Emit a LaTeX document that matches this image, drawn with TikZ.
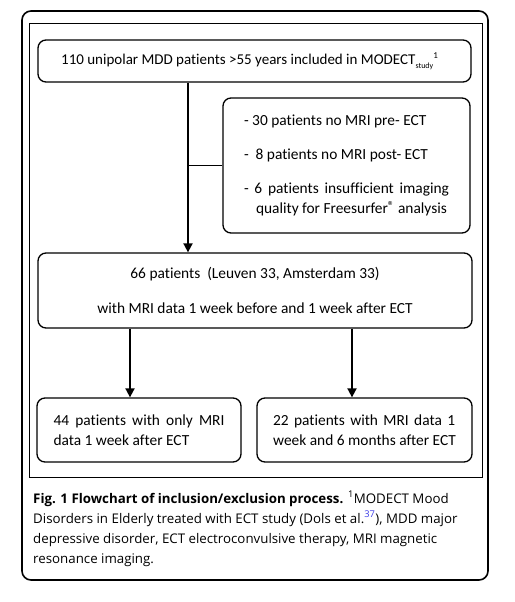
\documentclass[tikz,border=0pt]{standalone}
\usepackage{fontspec}
\setmainfont{Carlito}[Ligatures=NoCommon]
\newfontfamily\capfont{Open Sans}
\usetikzlibrary{arrows.meta}
\definecolor{linkblue}{RGB}{60,60,230}
\begin{document}
\begin{tikzpicture}[x=1pt,y=-1pt,
  framed/.style={draw, line width=1.3pt, rounded corners=8pt, inner sep=0pt, font=\fontsize{15.4}{20}\selectfont},
  box/.style={framed, align=center},
  conn/.style={line width=1.8pt},
  arr/.style={conn, -{Triangle[length=9pt,width=9pt]}}]
\useasboundingbox (0,0) rectangle (514,602);
\draw[line width=1.6pt, rounded corners=9pt] (22,11) rectangle (488,580);
\draw[line width=1pt] (29,24) rectangle (482,477);
\node[framed, minimum width=433pt, minimum height=42pt] (b1) at (254.5,61)
  {\fontsize{15}{20}\selectfont 110 unipolar MDD patients >55 years included in MODECT\raisebox{-0.45ex}{\fontsize{8}{8}\selectfont study}\raisebox{0.9ex}{\fontsize{9}{9}\selectfont 1}\kern10pt};
\node[box, minimum width=247pt, minimum height=135pt, align=left] (ex) at (346.5,165.5)
  {- 30 patients no MRI pre- ECT\\[14pt]
   -\ \ 8 patients no MRI post- ECT\\[14pt]
   \makebox[205pt][s]{- 6 patients insufficient imaging}\\
   \hspace*{12pt}quality for Freesurfer\raisebox{0.45ex}{\fontsize{13}{13}\selectfont ®} analysis};
\node[box, minimum width=434pt, minimum height=75pt] (b66) at (255,290.5)
  {66 patients\ \ (Leuven 33, Amsterdam 33)\\[15pt] with MRI data 1 week before and 1 week after ECT};
\node[box, minimum width=204pt, minimum height=64pt, align=left] (b44) at (139,430)
  {\makebox[171pt][s]{44 patients with only MRI}\\ data 1 week after ECT};
\node[box, minimum width=215pt, minimum height=64pt, align=left] (b22) at (364.5,430)
  {\makebox[182pt][s]{22 patients with MRI data 1}\\ week and 6 months after ECT};
\coordinate (v1) at (188,0);
\coordinate (v2) at (130,0);
\coordinate (v3) at (352,0);
\draw[arr] (b1.south -| v1) -- (b66.north -| v1);
\draw[conn] (ex.west) -- (ex.west -| v1);
\draw[arr] (b66.south -| v2) -- (b44.north -| v2);
\draw[arr] (b66.south -| v3) -- (b22.north -| v3);
\node[anchor=north west, align=left, inner sep=0pt, font=\capfont\fontsize{13.3}{20}\selectfont] (cap) at (33,491)
  {\textbf{Fig. 1 Flowchart of inclusion/exclusion process.} \textsuperscript{1}MODECT Mood\\
   Disorders in Elderly treated with ECT study (Dols et al.\textsuperscript{\color{linkblue}37}), MDD major\\
   depressive disorder, ECT electroconvulsive therapy, MRI magnetic\\
   resonance imaging.};
\end{tikzpicture}
\end{document}
